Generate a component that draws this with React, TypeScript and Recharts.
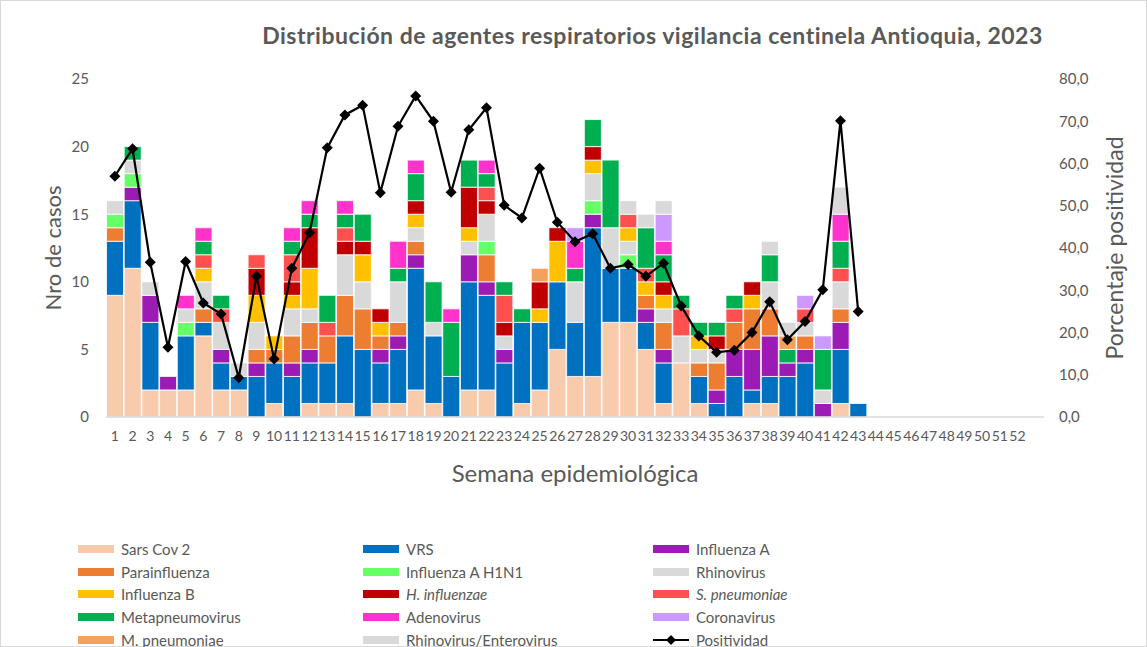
import React from "react";
import {
  ComposedChart,
  Bar,
  Line,
  XAxis,
  YAxis,
  Legend,
} from "recharts";

// semanas epidemiológicas (la última categoría va vacía, como en el original)
const weeks = [
  "1", "2", "3", "4", "5", "6", "7", "8", "9", "10", "11", "12", "13",
  "14", "15", "16", "17", "18", "19", "20", "21", "22", "23", "24", "25", "26",
  "27", "28", "29", "30", "31", "32", "33", "34", "35", "36", "37", "38", "39",
  "40", "41", "42", "43", "44", "45", "46", "47", "48", "49", "50", "51", "52", "",
];

const sarsCov2 = [9, 11, 2, 2, 2, 6, 2, 2, 0, 1, 0, 1, 1, 1, 0, 1, 1, 2, 1, 0, 2, 2, 0, 1, 2, 5, 3, 3, 7, 7, 5, 1, 4, 1, 0, 0, 1, 1, 0, 0, 0, 1, 0];
const vrs = [4, 5, 5, 0, 4, 1, 2, 1, 3, 3, 3, 3, 3, 5, 5, 3, 4, 9, 5, 3, 8, 7, 4, 6, 5, 5, 4, 11, 4, 4, 2, 3, 0, 2, 1, 3, 1, 2, 3, 4, 0, 4, 1];
const influenzaA = [0, 1, 2, 1, 0, 0, 1, 0, 1, 0, 1, 1, 0, 0, 0, 1, 1, 1, 0, 0, 2, 1, 1, 0, 0, 0, 0, 1, 0, 0, 1, 1, 0, 0, 1, 2, 3, 3, 1, 1, 1, 2, 0];
const parainfluenza = [1, 0, 0, 0, 0, 1, 0, 0, 1, 1, 2, 2, 2, 3, 3, 1, 1, 1, 0, 0, 0, 2, 0, 0, 0, 0, 0, 0, 0, 0, 1, 2, 0, 1, 2, 2, 3, 2, 0, 1, 0, 1, 0];
const h1n1 = [1, 1, 0, 0, 1, 0, 0, 0, 0, 0, 0, 0, 0, 0, 0, 0, 0, 0, 0, 0, 0, 1, 0, 0, 0, 0, 0, 1, 0, 1, 0, 0, 0, 0, 0, 0, 0, 0, 0, 0, 0, 0, 0];
const rhinovirus = [1, 1, 1, 0, 1, 2, 2, 1, 2, 0, 2, 1, 0, 3, 2, 0, 3, 1, 1, 0, 1, 2, 1, 0, 0, 0, 3, 2, 3, 1, 0, 1, 2, 1, 1, 0, 0, 2, 0, 1, 1, 2, 0];
const influenzaB = [0, 0, 0, 0, 0, 1, 0, 0, 2, 1, 1, 3, 0, 0, 2, 1, 0, 1, 0, 0, 1, 0, 0, 0, 1, 3, 0, 1, 0, 1, 1, 1, 0, 1, 0, 0, 1, 0, 0, 0, 0, 0, 0];
const hInfluenzae = [0, 0, 0, 0, 0, 0, 0, 0, 2, 0, 1, 3, 0, 1, 1, 1, 0, 1, 0, 0, 3, 1, 1, 0, 2, 1, 0, 1, 0, 0, 0, 1, 0, 0, 1, 0, 1, 0, 0, 0, 0, 0, 0];
const sPneumoniae = [0, 0, 0, 0, 0, 1, 1, 0, 1, 0, 2, 0, 1, 1, 0, 0, 0, 0, 0, 0, 0, 1, 2, 0, 0, 0, 0, 0, 0, 1, 1, 0, 2, 0, 0, 1, 0, 0, 0, 1, 0, 1, 0];
const metapneumovirus = [0, 1, 0, 0, 0, 1, 1, 0, 0, 0, 1, 1, 2, 1, 2, 0, 1, 2, 3, 4, 2, 1, 1, 1, 0, 0, 1, 2, 5, 0, 3, 2, 1, 1, 1, 1, 0, 2, 1, 0, 3, 2, 0];
const adenovirus = [0, 0, 0, 0, 1, 1, 0, 0, 0, 0, 1, 1, 0, 1, 0, 0, 2, 1, 0, 1, 0, 1, 0, 0, 0, 0, 2, 0, 0, 0, 0, 1, 0, 0, 0, 0, 0, 0, 0, 0, 0, 2, 0];
const coronavirus = [0, 0, 0, 0, 0, 0, 0, 0, 0, 0, 0, 0, 0, 0, 0, 0, 0, 0, 0, 0, 0, 0, 0, 0, 0, 0, 1, 0, 0, 0, 0, 2, 0, 0, 0, 0, 0, 0, 0, 1, 1, 0, 0];
const mPneumoniae = [0, 0, 0, 0, 0, 0, 0, 0, 0, 0, 0, 0, 0, 0, 0, 0, 0, 0, 0, 0, 0, 0, 0, 0, 1, 0, 0, 0, 0, 0, 0, 0, 0, 0, 0, 0, 0, 0, 1, 0, 0, 0, 0];
const rhinoEntero = [0, 0, 0, 0, 0, 0, 0, 0, 0, 0, 0, 0, 0, 0, 0, 0, 0, 0, 0, 0, 0, 0, 0, 0, 0, 0, 0, 0, 0, 1, 1, 1, 0, 0, 0, 0, 0, 1, 1, 0, 0, 2, 0];

// porcentaje de positividad por semana
const positividad = [
  57.0, 63.5, 36.6, 16.5, 36.8, 27.0, 24.4, 9.3, 33.3, 13.7, 35.2, 43.6, 63.7,
  71.5, 73.8, 53.1, 68.8, 76.0, 70.0, 53.2, 68.0, 73.2, 50.1, 47.1, 58.9, 46.1,
  41.5, 43.4, 35.2, 36.1, 33.3, 36.4, 26.3, 19.2, 15.3, 15.8, 20.0, 27.3, 18.3,
  22.6, 30.1, 70.1, 25.0,
];

const leftTicks = [0, 5, 10, 15, 20, 25];
const rightTicks = [0, 10, 20, 30, 40, 50, 60, 70, 80];

const series = [
  { key: "sars", name: "Sars Cov 2", color: "#F8CBAD", values: sarsCov2 },
  { key: "vrs", name: "VRS", color: "#0070C0", values: vrs },
  { key: "fluA", name: "Influenza A", color: "#9C1BB4", values: influenzaA },
  { key: "para", name: "Parainfluenza", color: "#ED7D31", values: parainfluenza },
  { key: "h1n1", name: "Influenza A H1N1", color: "#66FF66", values: h1n1 },
  { key: "rhino", name: "Rhinovirus", color: "#D9D9D9", values: rhinovirus },
  { key: "fluB", name: "Influenza B", color: "#FFC000", values: influenzaB },
  { key: "hinf", name: "H. influenzae", color: "#C00000", values: hInfluenzae, italic: true },
  { key: "spn", name: "S. pneumoniae", color: "#FF5050", values: sPneumoniae, italic: true },
  { key: "meta", name: "Metapneumovirus", color: "#00B050", values: metapneumovirus },
  { key: "adeno", name: "Adenovirus", color: "#FF33CC", values: adenovirus },
  { key: "corona", name: "Coronavirus", color: "#CC99FF", values: coronavirus },
  { key: "mpn", name: "M. pneumoniae", color: "#F4A15D", values: mPneumoniae },
  { key: "rhinoEntero", name: "Rhinovirus/Enterovirus", color: "#D9D9D9", values: rhinoEntero },
];

const data = weeks.map((week, i) => {
  const row: any = { week, positividad: i < positividad.length ? positividad[i] : null };
  series.forEach((s) => {
    row[s.key] = s.values[i] ?? 0;
  });
  return row;
});

const FONT = "Lato, 'Open Sans', sans-serif";
const GREY = "#595959";

const Diamond = (props: any) => {
  const { cx, cy, index } = props;
  if (cx == null || cy == null) return <g key={`d-${index}`} />;
  const r = 5.5;
  return (
    <path
      key={`d-${index}`}
      d={`M${cx},${cy - r} L${cx + r},${cy} L${cx},${cy + r} L${cx - r},${cy} Z`}
      fill="#000"
    />
  );
};

const colLeft = [77, 362, 652];
const rowTop = [539, 562, 584, 607, 630];

const renderLegend = () => {
  const items: any[] = series.map((s) => ({ ...s, line: false }));
  items.push({ key: "pos", name: "Positividad", color: "#000", line: true });
  return (
    <div style={{ position: "relative", width: 1147, height: 115, fontFamily: FONT }}>
      {items.map((it, i) => {
        const col = i % 3;
        const row = Math.floor(i / 3);
        return (
          <div
            key={it.key}
            style={{
              position: "absolute",
              left: colLeft[col],
              top: rowTop[row] - 535,
              height: 18,
              display: "flex",
              alignItems: "center",
              fontSize: 15,
              color: GREY,
              whiteSpace: "nowrap",
            }}
          >
            {it.line ? (
              <svg width={36} height={12} style={{ marginRight: 7 }}>
                <line x1={0} y1={6} x2={36} y2={6} stroke="#000" strokeWidth={2} />
                <path d="M18,1 L23,6 L18,11 L13,6 Z" fill="#000" />
              </svg>
            ) : (
              <span
                style={{
                  display: "inline-block",
                  width: 36,
                  height: 8,
                  background: it.color,
                  marginRight: 7,
                }}
              />
            )}
            <span style={{ fontStyle: it.italic ? "italic" : "normal" }}>{it.name}</span>
          </div>
        );
      })}
    </div>
  );
};

export default function App() {
  return (
    <div
      style={{
        position: "absolute",
        left: 0,
        top: 0,
        width: 1147,
        height: 647,
        background: "#fff",
        boxSizing: "border-box",
        border: "1px solid #D9D9D9",
      }}
    >
      <div
        style={{
          position: "absolute",
          left: 0,
          width: 1303,
          top: 20,
          textAlign: "center",
          fontFamily: FONT,
          fontWeight: 700,
          fontSize: 23,
          letterSpacing: 0.5,
          color: GREY,
        }}
      >
        Distribución de agentes respiratorios vigilancia centinela Antioquia, 2023
      </div>
      <ComposedChart
        width={1145}
        height={645}
        data={data}
        margin={{ top: 78, right: 0, left: 0, bottom: 159 }}
        barCategoryGap={0.5}
        style={{ fontFamily: FONT }}
      >
        <XAxis
          dataKey="week"
          interval={0}
          height={70}
          tickLine={false}
          tickSize={0}
          tickMargin={14}
          axisLine={{ stroke: "#D9D9D9", strokeWidth: 1.5 }}
          tick={{ fill: GREY, fontSize: 14 }}
          label={{
            value: "Semana epidemiológica",
            position: "insideBottom",
            offset: 5,
            fill: GREY,
            fontSize: 24,
          }}
        />
        <YAxis
          yAxisId="left"
          width={105}
          domain={[0, 25]}
          ticks={leftTicks}
          tickLine={false}
          axisLine={false}
          tickSize={0}
          tickMargin={17}
          tick={{ fill: GREY, fontSize: 15 }}
          label={{
            value: "Nro de casos",
            angle: -90,
            position: "center",
            fill: GREY,
            fontSize: 22,
          }}
        />
        <YAxis
          yAxisId="right"
          orientation="right"
          width={102}
          domain={[0, 80]}
          ticks={rightTicks}
          tickLine={false}
          axisLine={false}
          tickSize={0}
          tickMargin={15}
          tickFormatter={(v: number) => v.toFixed(1).replace(".", ",")}
          tick={{ fill: GREY, fontSize: 15 }}
          label={{
            value: "Porcentaje positividad",
            angle: -90,
            position: "center",
            dx: 20,
            fill: GREY,
            fontSize: 23,
          }}
        />
        {series.map((s) => (
          <Bar
            key={s.key}
            yAxisId="left"
            dataKey={s.key}
            name={s.name}
            stackId="casos"
            fill={s.color}
            stroke="#ffffff"
            strokeWidth={0.8}
            isAnimationActive={false}
          />
        ))}
        <Line
          yAxisId="right"
          dataKey="positividad"
          name="Positividad"
          stroke="#000"
          strokeWidth={2.2}
          dot={Diamond}
          activeDot={false}
          connectNulls={false}
          isAnimationActive={false}
        />
        <Legend
          layout="horizontal"
          verticalAlign="middle"
          align="center"
          wrapperStyle={{ left: 0, top: 535, width: 1147, height: 115 }}
          content={renderLegend}
        />
      </ComposedChart>
    </div>
  );
}
